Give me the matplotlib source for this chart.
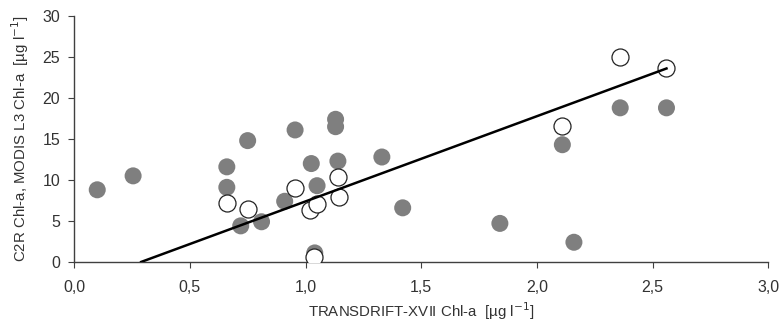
import matplotlib
matplotlib.use('Agg')
import matplotlib.pyplot as plt
from matplotlib.ticker import FuncFormatter

plt.rcParams['font.family'] = ['Liberation Sans', 'DejaVu Sans']

# filled grey circles
grey_x = [0.10, 0.255, 0.66, 0.66, 0.72, 0.75, 0.81, 0.91, 0.955, 1.025, 1.05,
          1.04, 1.14, 1.13, 1.13, 1.33, 1.42, 1.84, 2.16, 2.11, 2.36, 2.56]
grey_y = [8.8, 10.5, 11.6, 9.1, 4.4, 14.8, 4.9, 7.4, 16.1, 12.0, 9.3,
          1.1, 12.3, 17.4, 16.5, 12.8, 6.6, 4.7, 2.4, 14.3, 18.8, 18.8]

# open circles
open_x = [0.66, 0.75, 0.955, 1.02, 1.05, 1.14, 1.145, 1.035, 2.11, 2.36, 2.56]
open_y = [7.2, 6.5, 9.0, 6.3, 7.1, 10.4, 7.9, 0.6, 16.6, 25.0, 23.7]

# regression line end points
fit_x = [0.29, 2.56]
fit_y = [0.0, 23.6]

fig = plt.figure(figsize=(7.8, 3.27), dpi=100)
ax = fig.add_axes([0.095, 0.199, 0.89, 0.752])

ax.scatter(grey_x, grey_y, s=150, color='#7f7f7f', edgecolors='none', zorder=3)
ax.scatter(open_x, open_y, s=150, facecolors='white', edgecolors='#222222',
           linewidths=0.9, zorder=4)
ax.plot(fit_x, fit_y, color='black', lw=1.8, zorder=5)

ax.set_xlim(0, 3.0)
ax.set_ylim(0, 30)
ax.set_xticks([0, 0.5, 1.0, 1.5, 2.0, 2.5, 3.0])
ax.set_yticks([0, 5, 10, 15, 20, 25, 30])
ax.xaxis.set_major_formatter(FuncFormatter(lambda v, p: f'{v:.1f}'.replace('.', ',')))
ax.yaxis.set_major_formatter(FuncFormatter(lambda v, p: f'{v:.0f}'))

for side in ['top', 'right']:
    ax.spines[side].set_visible(False)
for side in ['left', 'bottom']:
    ax.spines[side].set_color('#404040')
    ax.spines[side].set_linewidth(1.0)

ax.tick_params(axis='both', direction='out', length=4, color='#404040',
               labelcolor='#333333', labelsize=11.5)
ax.tick_params(axis='x', pad=9)
ax.tick_params(axis='y', pad=6)

ax.set_xlabel('TRANSDRIFT-XVII Chl-a  [µg l$^{-1}$]', fontsize=10.8,
              color='#333333', labelpad=4)
ax.set_ylabel('C2R Chl-a, MODIS L3 Chl-a  [µg l$^{-1}$]', fontsize=10.8,
              color='#333333', labelpad=8)

fig.savefig('out.png', dpi=100)
